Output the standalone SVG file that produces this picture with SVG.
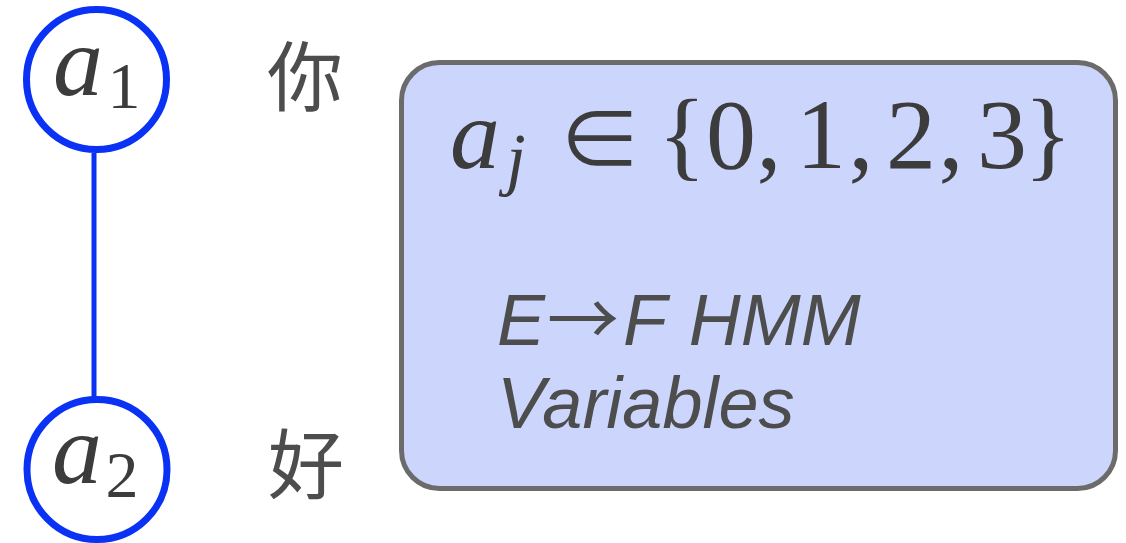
<svg xmlns="http://www.w3.org/2000/svg" width="1126" height="543" viewBox="0 0 1126 543">
<style>
.node{fill:none;stroke:#0a32f5;stroke-width:7}
.edge{stroke:#0a32f5;stroke-width:5;fill:none}
.math{font-family:"Liberation Serif","DejaVu Serif",serif;fill:#3c3c3c}
.it{font-style:italic}
.cjk{font-family:"Noto Sans CJK SC","Noto Sans CJK JP",sans-serif;font-size:76px;fill:#4d4d4d}
.sans{font-family:"Liberation Sans",Arial,sans-serif;font-style:italic;font-size:72px;fill:#4d4d4d}
.arrow{font-family:"Noto Sans CJK SC","Noto Sans CJK JP",sans-serif;font-style:normal}
.box{fill:#ccd6fd;stroke:#6b6b6b;stroke-width:5}
</style>
<rect width="1126" height="543" fill="#ffffff"/>
<g id="connectors">
<line class="edge" x1="94" y1="153" x2="94" y2="397"/>
</g>
<g id="node-a1">
<circle class="node" cx="96.5" cy="79.5" r="70"/>
<text class="math it" x="78" y="95" font-size="100" text-anchor="middle">a</text>
<text class="math" x="124" y="108" font-size="66" text-anchor="middle">1</text>
</g>
<g id="node-a2">
<circle class="node" cx="97" cy="469.5" r="70"/>
<text class="math it" x="77" y="483" font-size="100" text-anchor="middle">a</text>
<text class="math" x="122" y="497" font-size="66" text-anchor="middle">2</text>
</g>
<g id="label-ni">
<text class="cjk" x="267" y="105">你</text>
</g>
<g id="label-hao">
<text class="cjk" x="268" y="493">好</text>
</g>
<g id="info-box">
<rect class="box" x="401.5" y="62.5" width="714" height="426" rx="38" ry="38"/>
<g class="math" font-size="100" text-anchor="middle">
<text class="it" x="475" y="168">a</text>
<text class="it" x="516" y="182" font-size="70">j</text>
<text x="600" y="170" font-family="Noto Sans CJK SC, DejaVu Serif, serif" font-size="84">∈</text>
<text x="682" y="168">{</text>
<text x="731" y="168">0</text>
<text x="769" y="168">,</text>
<text x="821" y="168">1</text>
<text x="861" y="168">,</text>
<text x="911" y="168">2</text>
<text x="951" y="168">,</text>
<text x="1002" y="168">3</text>
<text x="1048" y="168">}</text>
</g>
<text class="sans" x="497" y="345">E<tspan class="arrow" dx="2">→</tspan><tspan dx="4">F</tspan><tspan dx="3"> HMM</tspan></text>
<text class="sans" x="497" y="428">Variables</text>
</g>
</svg>
